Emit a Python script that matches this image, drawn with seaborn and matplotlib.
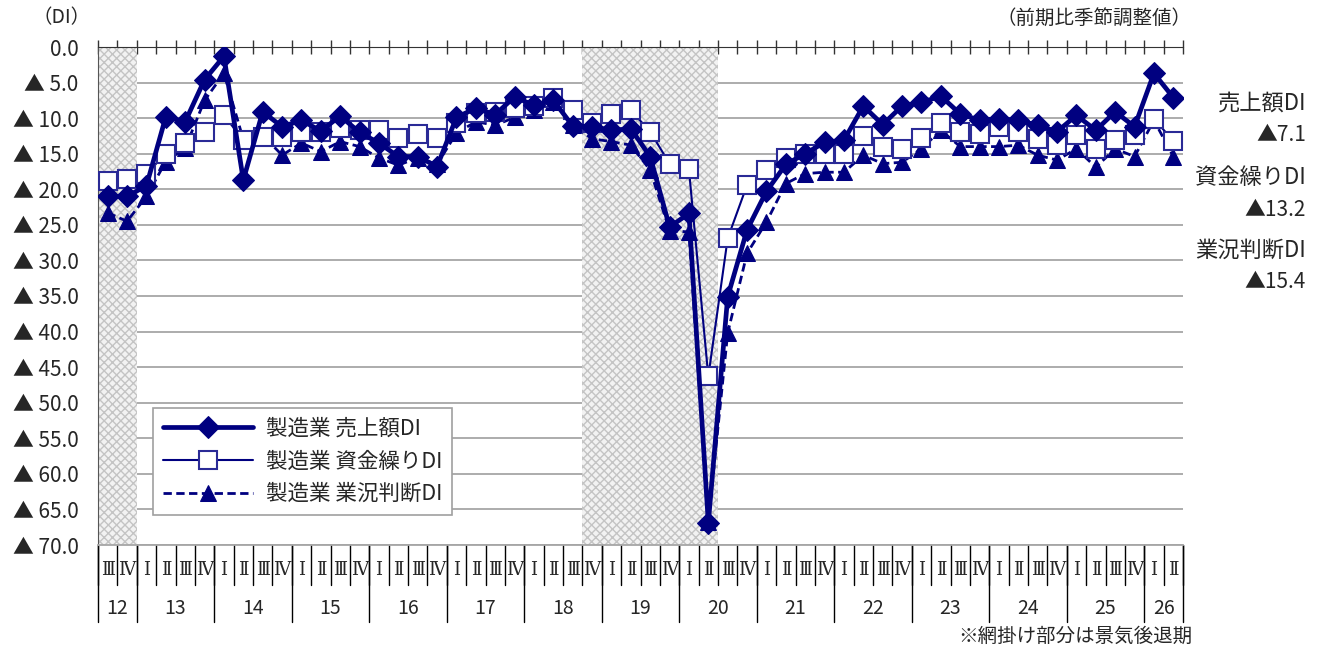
import matplotlib
matplotlib.use("Agg")
import matplotlib.pyplot as plt
import matplotlib.transforms as mtransforms
import numpy as np
import pandas as pd
import seaborn as sns

# ---------------------------------------------------------------------------
# data: 2012 III .. 2026 II (quarterly, DI, seasonally adjusted)
# ---------------------------------------------------------------------------
year_labels = ['12', '13', '14', '15', '16', '17', '18', '19',
               '20', '21', '22', '23', '24', '25', '26']
quarters_per_year = [2, 4, 4, 4, 4, 4, 4, 4, 4, 4, 4, 4, 4, 4, 2]
quarter_names = ['Ⅰ', 'Ⅱ', 'Ⅲ', 'Ⅳ']
first_quarter = 2  # series starts in Ⅲ

sales_di = [21.0, 21.0, 19.5, 9.8, 10.5, 4.6, 1.3, 18.7, 9.1, 11.2,
            10.3, 11.8, 9.7, 12.0, 13.5, 15.4, 15.4, 16.8, 9.9, 8.6,
            9.5, 7.0, 8.2, 7.5, 11.1, 11.2, 11.7, 11.5, 15.4, 25.3,
            23.4, 66.9, 35.1, 25.7, 20.3, 16.5, 15.0, 13.4, 13.1, 8.3,
            10.9, 8.3, 7.8, 6.9, 9.4, 10.3, 10.1, 10.3, 11.0, 11.9,
            9.6, 11.7, 9.1, 11.2, 3.7, 7.1]
cash_di = [18.9, 18.5, 17.8, 15.0, 13.5, 11.9, 9.6, 13.1, 12.6, 12.7,
           11.9, 11.9, 11.4, 11.7, 11.6, 12.8, 12.2, 12.8, 10.7, 9.3,
           9.2, 8.6, 8.3, 7.2, 8.9, 10.7, 9.4, 8.9, 11.9, 16.4,
           17.2, 46.3, 26.9, 19.4, 17.3, 15.6, 15.1, 15.1, 15.1, 12.5,
           14.0, 14.3, 12.8, 10.7, 11.9, 12.2, 11.3, 11.9, 12.9, 13.8,
           12.4, 14.3, 13.1, 12.4, 10.1, 13.2]
business_di = [23.3, 24.5, 21.0, 16.1, 14.2, 7.5, 3.7, 13.0, 12.4, 15.2,
               13.5, 14.7, 13.3, 14.0, 15.6, 16.6, 15.6, 16.5, 12.1, 10.5,
               11.0, 9.9, 8.9, 7.7, 11.0, 12.9, 13.3, 13.8, 17.3, 25.8,
               26.0, 66.7, 40.2, 29.0, 24.6, 19.2, 17.8, 17.6, 17.6, 15.2,
               16.4, 16.2, 14.3, 11.7, 14.0, 14.0, 14.0, 13.8, 15.2, 15.9,
               14.3, 16.9, 14.3, 15.4, 10.3, 15.4]

# recession periods (first, last quarter index)
recessions = [(0, 1), (25, 31)]

series_names = ['製造業 売上額DI', '製造業 資金繰りDI', '製造業 業況判断DI']
latest_names = ['売上額DI', '資金繰りDI', '業況判断DI']
latest_values = ['▲7.1', '▲13.2', '▲15.4']

navy = '#000080'

# ---------------------------------------------------------------------------
sns.set_style('white')
plt.rcParams['font.family'] = ['Noto Sans CJK JP', 'DejaVu Sans']

n = len(sales_di)
df = pd.DataFrame({
    'pos': np.arange(n),
    'sales': sales_di,
    'cash': cash_di,
    'business': business_di,
})

fig = plt.figure(figsize=(13.2, 6.5), dpi=100)
ax = fig.add_axes([98 / 1320, 1 - 545 / 650, 1085 / 1320, 498 / 650])

# shaded recession periods
for start, end in recessions:
    ax.axvspan(start - 0.5, end + 0.5, facecolor='#f2f2f2', edgecolor='#c4c4c4',
               hatch='xxxx', linewidth=0, zorder=1)

sns.lineplot(data=df, x='pos', y='sales', ax=ax, color=navy, linewidth=3.4,
             marker='D', markersize=11, markeredgecolor=navy,
             markerfacecolor=navy, label=series_names[0], zorder=6)
sns.lineplot(data=df, x='pos', y='cash', ax=ax, color=navy, linewidth=1.5,
             marker='s', markersize=12.5, markeredgecolor='#2a2a96',
             markeredgewidth=1.5, markerfacecolor='white',
             label=series_names[1], zorder=5)
sns.lineplot(data=df, x='pos', y='business', ax=ax, color=navy, linewidth=2,
             linestyle=(0, (3, 1.6)), marker='^', markersize=12,
             markeredgecolor=navy, markerfacecolor=navy,
             label=series_names[2], zorder=4)

# axes
ax.set_xlim(-0.5, n - 0.5)
ax.set_ylim(70, 0)
ax.set_xlabel('')
ax.set_ylabel('')

yticks = np.arange(0, 75, 5)
ax.set_yticks(yticks)
ax.set_yticklabels(['0.0'] + [f'▲ {v:.1f}' for v in yticks[1:]], fontsize=15)
ax.tick_params(axis='y', direction='in', length=7, width=1, color='#555555',
               pad=14)
ax.yaxis.grid(True, color='#a6a6a6', linewidth=1.3)
ax.set_axisbelow(True)

ax.xaxis.set_ticks_position('top')
ax.set_xticks(np.arange(-0.5, n, 1))
ax.set_xticklabels([])
ax.tick_params(axis='x', direction='inout', length=10, width=1, color='#333333')

ax.spines['top'].set_color('#333333')
ax.spines['left'].set_color('#555555')
ax.spines['bottom'].set_color('#a6a6a6')
ax.spines['bottom'].set_linewidth(1.3)
ax.spines['right'].set_visible(False)

# quarter / year table below the plot
trans = mtransforms.blended_transform_factory(ax.transData, ax.transAxes)
q_bottom = -(585 - 545) / 498
y_bottom = -(622 - 545) / 498
for b in np.arange(-0.5, n, 1):
    ax.plot([b, b], [0, q_bottom], transform=trans, color='black',
            linewidth=1, clip_on=False)

pos = 0
q = first_quarter
for year, count in zip(year_labels, quarters_per_year):
    ax.plot([pos - 0.5, pos - 0.5], [0, y_bottom], transform=trans,
            color='black', linewidth=1, clip_on=False)
    for k in range(count):
        ax.text(pos + k, -25 / 498, quarter_names[q % 4], transform=trans,
                ha='center', va='center', fontsize=13,
                family=['DejaVu Serif', 'Noto Sans CJK JP'])
        q += 1
    ax.text(pos + (count - 1) / 2, -63 / 498, year, transform=trans,
            ha='center', va='center', fontsize=14)
    pos += count
ax.plot([pos - 0.5, pos - 0.5], [0, y_bottom], transform=trans,
        color='black', linewidth=1, clip_on=False)

# legend
handles, labels = ax.get_legend_handles_labels()
leg = ax.legend(handles, labels, loc='upper left',
                bbox_to_anchor=((153 - 98) / 1085, (545 - 408) / 498),
                borderaxespad=0, fontsize=15.5, handlelength=4.2,
                frameon=True, fancybox=False, framealpha=1,
                edgecolor='#a0a0a0', borderpad=0.45, labelspacing=0.5,
                handletextpad=0.6)
leg.get_frame().set_linewidth(1.2)

# annotations
fig.text(62 / 1320, 1 - 18 / 650, '（DI）', ha='center', va='center',
         fontsize=14)
fig.text(1192 / 1320, 1 - 18 / 650, '（前期比季節調整値）', ha='right',
         va='center', fontsize=14)
fig.text(1192 / 1320, 1 - 636 / 650, '※網掛け部分は景気後退期', ha='right',
         va='center', fontsize=14)

label_y = [103, 178, 250]
for name, val, y in zip(latest_names, latest_values, label_y):
    fig.text(1306 / 1320, 1 - y / 650, name, ha='right', va='center',
             fontsize=16)
    fig.text(1306 / 1320, 1 - (y + 32) / 650, val, ha='right', va='center',
             fontsize=15)

fig.savefig('out.png', dpi=100)
plt.close(fig)
